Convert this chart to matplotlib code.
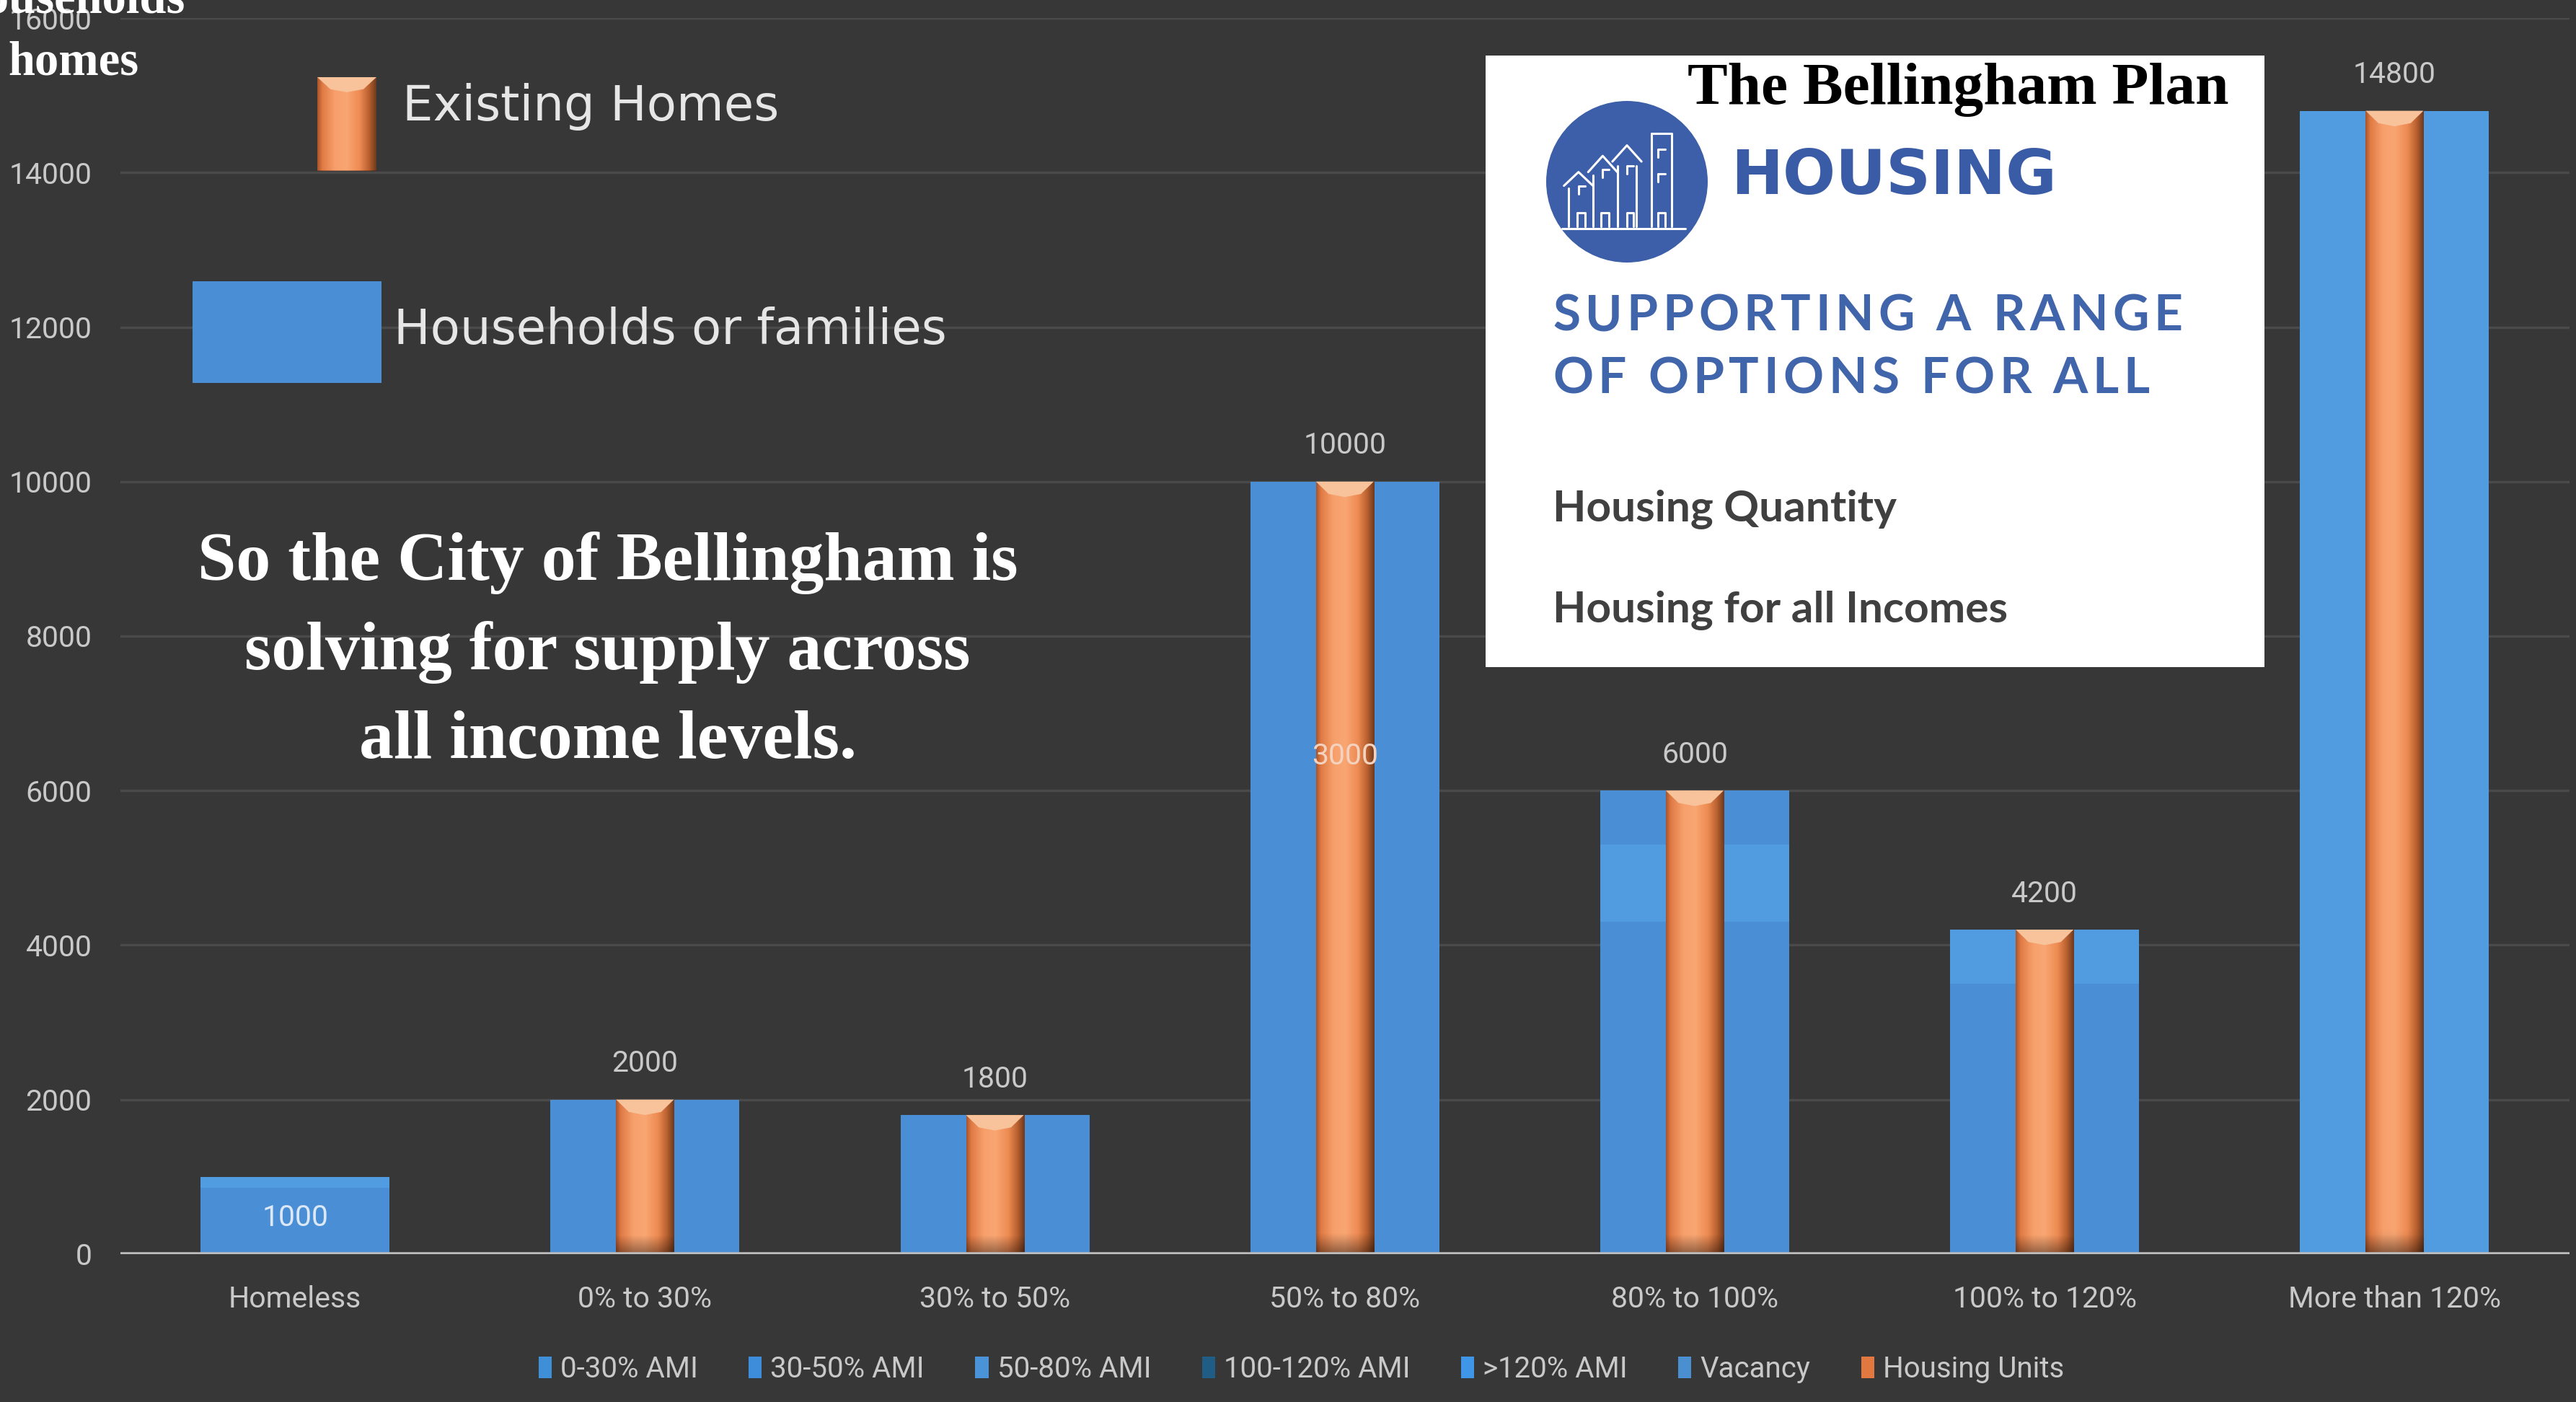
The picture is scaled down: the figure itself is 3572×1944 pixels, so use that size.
import numpy as np
import matplotlib
matplotlib.use("Agg")
import matplotlib.pyplot as plt
from matplotlib.patches import Rectangle, Circle, Polygon, Patch
from matplotlib.colors import LinearSegmentedColormap
from matplotlib import font_manager
from matplotlib.ft2font import FT2Font

# ---------------- data ----------------
categories = ["Homeless", "0% to 30%", "30% to 50%", "50% to 80%",
              "80% to 100%", "100% to 120%", "More than 120%"]
ami_0_30 = [860, 2000, 0, 0, 0, 0, 0]
ami_30_50 = [0, 0, 1800, 0, 0, 0, 0]
ami_50_80 = [0, 0, 0, 10000, 4300, 0, 0]
vacancy = [140, 0, 0, 0, 1000, 0, 0]
ami_100_120 = [0, 0, 0, 0, 700, 3500, 0]
ami_over_120 = [0, 0, 0, 0, 0, 700, 14800]
housing_units = [0, 2000, 1800, 10000, 6000, 4200, 14800]
inner_label_value = 3000
inner_label_y = 6450
y_ticks = [0, 2000, 4000, 6000, 8000, 10000, 12000, 14000, 16000]
legend_labels = ["0-30% AMI", "30-50% AMI", "50-80% AMI", "100-120% AMI",
                 ">120% AMI", "Vacancy", "Housing Units"]

# ---------------- style ----------------
BG = "#373737"
TXT = "#c9c9c9"
DARK_BLUE = "#4a8fd6"
LIGHT_BLUE = "#519be0"
SANS = ["Roboto", "DejaVu Sans"]
SERIF = ["Liberation Serif", "DejaVu Serif"]
TICK_PT = 29.5

orange_cmap = LinearSegmentedColormap.from_list(
    "cyl", [(0.0, "#a9552c"), (0.08, "#e07a44"), (0.3, "#f7a06c"),
            (0.5, "#f9a673"), (0.72, "#ee8b53"), (0.88, "#b8602f"),
            (1.0, "#6e3a1f")])

fig = plt.figure(figsize=(35.73, 19.44), dpi=100, facecolor=BG)
ax = fig.add_axes([0.0466, 0.1055, 0.9506, 0.8816], facecolor=BG)

x = np.arange(len(categories))
series = [("0-30% AMI", ami_0_30, DARK_BLUE),
          ("30-50% AMI", ami_30_50, DARK_BLUE),
          ("50-80% AMI", ami_50_80, DARK_BLUE),
          ("Vacancy", vacancy, LIGHT_BLUE),
          ("100-120% AMI", ami_100_120, DARK_BLUE),
          (">120% AMI", ami_over_120, LIGHT_BLUE)]
bottom = np.zeros(len(categories))
for name, vals, col in series:
    ax.bar(x, vals, width=0.54, bottom=bottom, color=col, linewidth=0, zorder=2)
    bottom = bottom + np.asarray(vals, dtype=float)
totals = bottom

# orange "existing homes" cylinders
ob = ax.bar(x, housing_units, width=0.165, color="#ee8a50", linewidth=0, zorder=3)
hgrad = orange_cmap(np.linspace(0, 1, 128))[:, :3]


def cylinder(axis, patch, bevel, darkzone):
    x0, w, h = patch.get_x(), patch.get_width(), patch.get_height()
    if h <= 0:
        return
    ys = np.linspace(0, h, 200)
    fac = 1 - 0.4 * np.clip(1 - ys / darkzone, 0, 1)
    img = hgrad[None, :, :] * fac[:, None, None]
    im = axis.imshow(img, extent=(x0, x0 + w, 0, h), origin="lower",
                     aspect="auto", zorder=3.5, interpolation="bilinear")
    im.set_clip_path(patch)
    xc = x0 + w / 2
    axis.add_patch(Polygon([(x0, h), (x0 + w, h), (x0 + 0.78 * w, h - bevel * 0.8),
                            (xc, h - bevel), (x0 + 0.22 * w, h - bevel * 0.8)],
                           closed=True, facecolor="#f8c39a", edgecolor="none",
                           zorder=4))


for p in ob:
    cylinder(ax, p, 200, 240)

# value labels
for xi, tot, hu in zip(x, totals, housing_units):
    if hu <= 0:
        ax.text(xi, tot / 2 - 30, f"{int(tot)}", ha="center", va="center",
                fontsize=TICK_PT, color="#dce8f5", family=SANS, zorder=6)
    else:
        ax.annotate(f"{int(tot)}", (xi, tot), xytext=(0, 36),
                    textcoords="offset points", ha="center", va="center",
                    fontsize=TICK_PT, color=TXT, family=SANS, zorder=6)
ax.text(x[3], inner_label_y, f"{inner_label_value}", ha="center", va="center",
        fontsize=TICK_PT, color="#f3d3bf", family=SANS, zorder=6)

ax.set_xlim(-0.5, len(categories) - 0.5)
ax.set_ylim(0, 16000)
ax.set_yticks(y_ticks)
ax.set_yticklabels([str(t) for t in y_ticks])
ax.set_xticks(x)
ax.set_xticklabels(categories)
for lab in ax.get_xticklabels() + ax.get_yticklabels():
    lab.set_family(SANS)
ax.tick_params(axis="both", length=0, labelsize=TICK_PT, labelcolor=TXT)
ax.tick_params(axis="x", pad=31)
ax.tick_params(axis="y", pad=28)
for s in ax.spines.values():
    s.set_visible(False)
ax.yaxis.grid(True, color="#4a4a4a", linewidth=2.5)
ax.set_axisbelow(True)
ax.axhline(0, color="#bdbdbd", linewidth=4, zorder=5)

# bottom legend
leg_colors = ["#3f8fd8", "#3d8ddb", "#4b93d9", "#1f5d85", "#3f95e6", "#4a8fd0", "#e07840"]
handles = [Patch(facecolor=c, edgecolor="none") for c in leg_colors]
fig.legend(handles, legend_labels, loc="center", bbox_to_anchor=(0.505, 0.0234),
           ncol=7, frameon=False, prop={"family": SANS, "size": 29},
           labelcolor=TXT, handlelength=0.45, handleheight=0.75,
           handletextpad=0.3, columnspacing=1.75)

# top-left custom legend
sw = fig.add_axes([440 / 3573, 1 - 237 / 1944, 82 / 3573, 130 / 1944])
sw.set_axis_off()
sp = sw.bar([0], [1], width=1, color="#ee8a50", linewidth=0)
sw.set_xlim(-0.5, 0.5)
sw.set_ylim(0, 1)
cylinder(sw, sp[0], 0.16, 0.001)
fig.add_artist(Rectangle((267 / 3573, 1 - 531 / 1944), 262 / 3573, 141 / 1944,
                         transform=fig.transFigure, facecolor="#4a8fd6",
                         edgecolor="none"))
fig.text(558 / 3573, 1 - 148 / 1944, "Existing Homes", fontsize=48.5,
         color="#e6e6e6", family=["DejaVu Sans"], va="center", ha="left")
fig.text(546 / 3573, 1 - 458 / 1944, "Households or families", fontsize=48.5,
         color="#e6e6e6", family=["DejaVu Sans"], va="center", ha="left")

# top-left clipped serif labels
fig.text(257 / 3573, 1 - 18 / 1944, "Households", fontsize=48, color="white",
         family=SERIF, weight="bold", ha="right", va="baseline")
fig.text(11 / 3573, 1 - 87 / 1944, "homes", fontsize=48, color="white",
         family=SERIF, weight="bold", ha="left", va="center")

# main message
fig.text(0.2358, 0.535,
         "So the City of Bellingham is\nsolving for supply across\nall income levels.",
         fontsize=69, color="white", family=SERIF, weight="bold",
         ha="center", va="center", linespacing=1.55)

# white info box
bx = fig.add_axes([2060 / 3573, 1 - 925 / 1944, 1080 / 3573, 848 / 1944])
bx.set_xlim(0, 1080)
bx.set_ylim(0, 848)
bx.set_facecolor("white")
bx.set_xticks([])
bx.set_yticks([])
for s in bx.spines.values():
    s.set_visible(False)
bx.text(280, 800, "The Bellingham Plan", fontsize=60, color="black",
        family=SERIF, weight="bold", ha="left", va="center")
cx, cy, r = 196, 673, 112
bx.add_patch(Circle((cx, cy), r, facecolor="#3d5fa9", edgecolor="none"))
icon = [
    [(-0.78, -0.05), (-0.6, 0.12), (-0.42, -0.05)],
    [(-0.72, -0.08), (-0.72, -0.55)],
    [(-0.48, 0.12), (-0.3, 0.32), (-0.12, 0.12)],
    [(-0.42, 0.08), (-0.42, -0.55)],
    [(-0.18, 0.25), (0.0, 0.45), (0.18, 0.25)],
    [(-0.12, 0.2), (-0.12, -0.55)],
    [(0.12, 0.2), (0.12, -0.55)],
    [(0.3, 0.6), (0.55, 0.6), (0.55, -0.55)],
    [(0.3, 0.6), (0.3, -0.55)],
    [(-0.8, -0.58), (0.72, -0.58)],
    [(-0.62, -0.55), (-0.62, -0.38), (-0.52, -0.38), (-0.52, -0.55)],
    [(-0.32, -0.55), (-0.32, -0.38), (-0.22, -0.38), (-0.22, -0.55)],
    [(0.0, -0.55), (0.0, -0.38), (0.08, -0.38), (0.08, -0.55)],
    [(0.38, -0.55), (0.38, -0.38), (0.47, -0.38), (0.47, -0.55)],
    [(-0.6, -0.15), (-0.6, -0.05), (-0.52, -0.05)],
    [(-0.3, 0.05), (-0.3, 0.15), (-0.22, 0.15)],
    [(0.0, 0.1), (0.0, 0.2), (0.08, 0.2)],
    [(0.38, 0.3), (0.38, 0.4), (0.47, 0.4)],
    [(0.38, 0.0), (0.38, 0.1), (0.47, 0.1)],
]
for seg in icon:
    xs = [cx + px * r for px, py in seg]
    ys = [cy + py * r for px, py in seg]
    bx.plot(xs, ys, color="white", linewidth=2.2, solid_capstyle="round")
bx.text(340, 679, "HOUSING", fontsize=62, color="#3a5ca6",
        family=["DejaVu Sans"], weight="bold", ha="left", va="center")


def glyph_advances(s, family, weight, size_pt):
    prop = font_manager.FontProperties(family=family, weight=weight)
    f = FT2Font(font_manager.findfont(prop))
    f.set_size(size_pt, 100)
    return [f.load_char(ord(c)).linearHoriAdvance / 65536.0 for c in s]


def spaced_text(axis, x0, y, s, size_pt, extra, **kw):
    adv = glyph_advances(s, kw["family"], kw["weight"], size_pt)
    xp = x0
    for c, a in zip(s, adv):
        axis.text(xp, y, c, fontsize=size_pt, ha="left", va="center", **kw)
        xp += a + extra


tag1, tag2 = "SUPPORTING A RANGE", "OF OPTIONS FOR ALL"
TAG_PT = 50
tag_kw = dict(family=["Lato"], weight="bold", color="#4165aa")
adv1 = glyph_advances(tag1, tag_kw["family"], tag_kw["weight"], TAG_PT)
extra = (873 - sum(adv1)) / (len(tag1) - 1)
spaced_text(bx, 93, 486, tag1, TAG_PT, extra, **tag_kw)
spaced_text(bx, 93, 399, tag2, TAG_PT, extra, **tag_kw)

bx.text(93, 219, "Housing Quantity", fontsize=43.5, color="#404040",
        family=["Lato", "DejaVu Sans"], weight="bold", ha="left", va="center")
bx.text(93, 78, "Housing for all Incomes", fontsize=43.5, color="#404040",
        family=["Lato", "DejaVu Sans"], weight="bold", ha="left", va="center")

fig.savefig("out.png", dpi=100, facecolor=BG)
